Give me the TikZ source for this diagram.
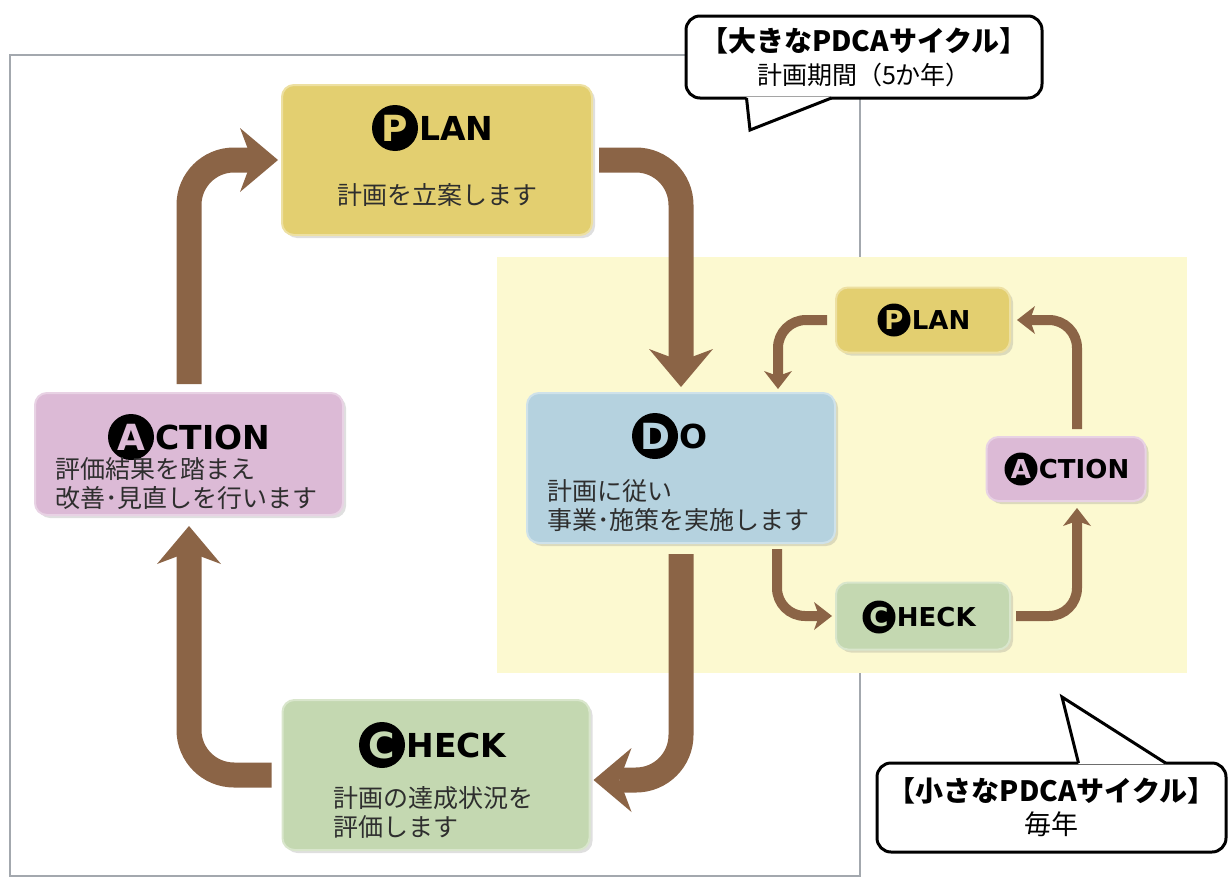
\documentclass[tikz,border=0pt]{standalone}
\usepackage{fontspec}
\setmainfont{Noto Sans CJK JP}
\newfontfamily\titlefont{DejaVu Sans}
\usetikzlibrary{arrows.meta,positioning,shadows}
\definecolor{planyellow}{HTML}{E3CF70}
\definecolor{actionpink}{HTML}{DCBAD6}
\definecolor{doblue}{HTML}{B5D2DF}
\definecolor{checkgreen}{HTML}{C4D8B1}
\definecolor{arrowbrown}{HTML}{8B6446}
\definecolor{smallbg}{HTML}{FCF9D0}
\definecolor{framegray}{HTML}{A3A8AE}
\definecolor{textgray}{HTML}{2E2E2E}
\tikzset{
  pdcabox/.style={rectangle, rounded corners=12pt, fill=#1, draw=#1!65!white, line width=2pt,
    drop shadow={shadow xshift=3pt, shadow yshift=-3pt, opacity=0.25}},
  bigball/.style={circle, fill=black, inner sep=0pt, minimum size=46pt,
    font=\titlefont\bfseries\fontsize{36}{36}\selectfont},
  bigword/.style={inner sep=1pt, font=\titlefont\bfseries\fontsize{33}{33}\selectfont},
  smallball/.style={circle, fill=black, inner sep=0pt, minimum size=33pt,
    font=\titlefont\bfseries\fontsize{26}{26}\selectfont},
  smallword/.style={inner sep=1pt, font=\titlefont\bfseries\fontsize{26}{26}\selectfont},
  boxtext/.style={text=textgray, font=\fontsize{25}{29}\selectfont, align=left, inner sep=0pt},
  bigarrow/.style={draw=arrowbrown, line width=25pt, rounded corners=45pt,
    -{Stealth[length=38pt 0 0, width=64pt 0 0, inset=12pt 0 0, line width=0pt]}},
  smallarrow/.style={draw=arrowbrown, line width=10pt, rounded corners=28pt,
    -{Stealth[length=18pt 0 0, width=28pt 0 0, inset=5pt 0 0, line width=0pt]}},
  callout/.style={rectangle, rounded corners=14pt, draw=black, line width=3pt, fill=white,
    align=center, font=\fontsize{25}{33}\selectfont}
}
\begin{document}
\begin{tikzpicture}[x=1pt, y=-1pt]
\useasboundingbox (0,0) rectangle (1229,878);
% frame of the big cycle, area of the small cycle
\draw[framegray, line width=2pt] (10,55) rectangle (860,876);
\fill[smallbg] (497,257) rectangle (1187,673);

% big cycle
\node[pdcabox=planyellow, minimum width=310pt, minimum height=150pt] (P) at (437,160) {};
\node[pdcabox=actionpink, minimum width=308pt, minimum height=122pt] (A) at (189,454) {};
\node[pdcabox=doblue, minimum width=308pt, minimum height=150pt] (D) at (681,468) {};
\node[pdcabox=checkgreen, minimum width=307pt, minimum height=150pt] (C) at (436,775) {};

\node[bigball, text=planyellow] (Pini) at (395,128) {P};
\node[bigword, right=0pt of Pini] {LAN};
\node[bigball, text=actionpink] (Aini) at (131,437) {A};
\node[bigword, right=0pt of Aini] {CTION};
\node[bigball, text=doblue] (Dini) at (655,436) {D};
\node[bigword, right=0pt of Dini] {O};
\node[bigball, text=checkgreen] (Cini) at (382,745) {C};
\node[bigword, right=0pt of Cini] {HECK};

\node[boxtext] (Ptext) at (437,195) {計画を立案します};
\node[boxtext, anchor=west] (Atext) at (55,484) {評価結果を踏まえ\\改善･見直しを行います};
\node[boxtext, anchor=west] (Dtext) at (547,506) {計画に従い\\事業･施策を実施します};
\node[boxtext, anchor=west] (Ctext) at (333,812) {計画の達成状況を\\評価します};

% small cycle
\node[pdcabox=planyellow, minimum width=174pt, minimum height=65pt] (sP) at (923,320) {};
\node[pdcabox=actionpink, minimum width=159pt, minimum height=64pt] (sA) at (1066,469) {};
\node[pdcabox=checkgreen, minimum width=174pt, minimum height=67pt] (sC) at (923,616) {};

\node[smallball, text=planyellow] (sPini) at (894,320) {P};
\node[smallword, right=0pt of sPini] {LAN};
\node[smallball, text=actionpink] (sAini) at (1021,469) {A};
\node[smallword, right=0pt of sAini] {CTION};
\node[smallball, text=checkgreen] (sCini) at (879,617) {C};
\node[smallword, right=0pt of sCini] {HECK};

% arrows
\draw[bigarrow] ([yshift=8pt]A.north) |- ([xshift=-3pt]P.west);
\draw[bigarrow] ([xshift=6pt]P.east) -| ([yshift=5pt]D.north);
\draw[bigarrow] ([yshift=-10pt]D.south) |- ([xshift=3pt,yshift=-5pt]C.east);
\draw[bigarrow] ([xshift=-10pt]C.west) -| ([yshift=-10pt]A.south);

\draw[smallarrow] ([xshift=-8pt]sP.west) -| ([xshift=97pt,yshift=3pt]D.north);
\draw[smallarrow] ([xshift=96pt,yshift=-5pt]D.south) |- ([xshift=-3pt]sC.west);
\draw[smallarrow] ([xshift=5pt]sC.east) -| ([xshift=11pt,yshift=-6pt]sA.south);
\draw[smallarrow] ([xshift=11pt,yshift=7pt]sA.north) |- ([xshift=6pt]sP.east);

% callouts
\node[callout, minimum width=356pt, minimum height=82pt] (bigcall) at (864,57)
  {{\bfseries\fontsize{28}{33}\selectfont 【大きなPDCAサイクル】}\\計画期間（5か年）};
\coordinate (bigtip) at (750,130);
\path (bigcall.south west) ++(62,0) coordinate (bigl)
      (bigcall.south west) ++(147,0) coordinate (bigr);
\fill[white] ([yshift=2.5pt]bigl) -- (bigtip) -- ([yshift=2.5pt]bigr) -- cycle;
\draw[line width=3pt] ([yshift=1.5pt]bigl) -- (bigtip) -- ([yshift=1.5pt]bigr);

\node[callout, minimum width=349pt, minimum height=89pt] (smallcall) at (1051.5,807.5)
  {{\bfseries\fontsize{28}{33}\selectfont 【小さなPDCAサイクル】}\\{\fontsize{27}{33}\selectfont 毎年}};
\coordinate (smalltip) at (1062,697);
\path (smallcall.north west) ++(203,0) coordinate (smalll)
      (smallcall.north west) ++(290,0) coordinate (smallr);
\fill[white] ([yshift=-2.5pt]smalll) -- (smalltip) -- ([yshift=-2.5pt]smallr) -- cycle;
\draw[line width=3pt] ([yshift=-1.5pt]smalll) -- (smalltip) -- ([yshift=-1.5pt]smallr);
\end{tikzpicture}
\end{document}
